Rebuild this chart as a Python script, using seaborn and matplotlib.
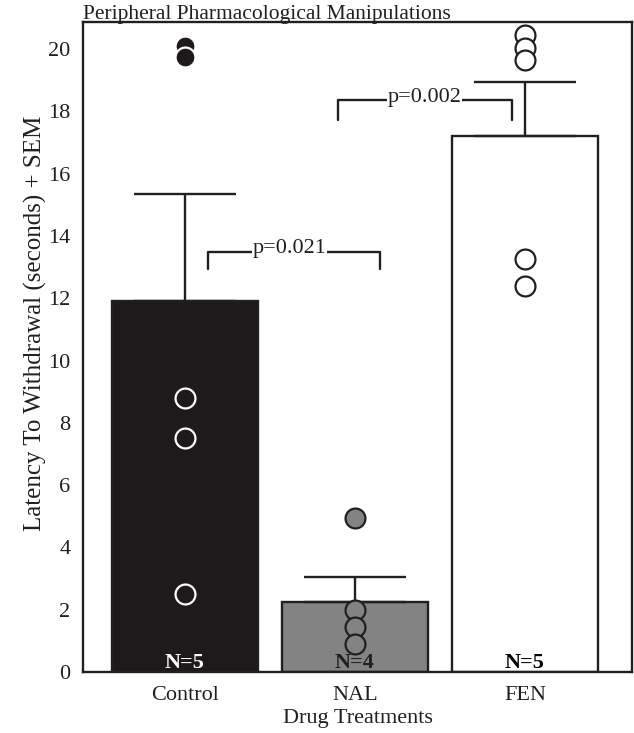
import numpy as np
import pandas as pd
import matplotlib
matplotlib.use('Agg')
import matplotlib.pyplot as plt
import seaborn as sns

# Data
groups = ['Control', 'NAL', 'FEN']
means = [11.9, 2.25, 17.2]
sems = [3.45, 0.8, 1.75]
n_labels = ['N=5', 'N=4', 'N=5']
control_pts = [20.1, 19.75, 8.8, 7.5, 2.5]
nal_pts = [4.95, 2.0, 1.45, 0.9]
fen_pts = [20.45, 20.05, 19.65, 13.25, 12.4]
yticks = list(range(0, 21, 2))

dark = '#231f20'
bar_colors = ['#1e1a1b', '#838383', '#ffffff']

sns.set_style('white')
plt.rcParams['font.family'] = ['Liberation Serif', 'DejaVu Serif']

df = pd.DataFrame({'group': groups, 'mean': means})

fig = plt.figure(figsize=(6.34, 7.33), dpi=100)
ax = fig.add_axes([83 / 634, 1 - 672 / 733, (632 - 83) / 634, (672 - 22) / 733])

sns.barplot(data=df, x='group', y='mean', hue='group', palette=bar_colors,
            legend=False, width=0.86, edgecolor=dark, linewidth=1.7, ax=ax)

# one-sided SEM bars
ax.errorbar(range(len(groups)), means, yerr=[np.zeros(len(sems)), sems],
            fmt='none', ecolor=dark, elinewidth=1.7, capsize=37, capthick=1.7, zorder=3)

# individual animals
ax.scatter(np.zeros(len(control_pts)), control_pts, s=205, facecolor='#1e1a1b',
           edgecolor='white', linewidth=1.6, zorder=4)
ax.scatter(np.ones(len(nal_pts)), nal_pts, s=205, facecolor='#838383',
           edgecolor=dark, linewidth=1.6, zorder=4)
ax.scatter(np.full(len(fen_pts), 2), fen_pts, s=205, facecolor='white',
           edgecolor=dark, linewidth=1.6, zorder=4)

# N labels
n_colors = ['white', dark, 'black']
for i, (lab, c) in enumerate(zip(n_labels, n_colors)):
    ax.text(i, 0.12, lab, ha='center', va='baseline', fontsize=16,
            fontweight='bold', color=c, zorder=5)

# significance brackets
def bracket(x0, x1, y, drop, label, xt):
    ax.plot([x0, x0, x1, x1], [y - drop, y, y, y - drop], color=dark, lw=1.7, zorder=3)
    ax.text(xt, y - 0.05, label, ha='center', va='baseline', fontsize=16, color=dark,
            zorder=4, bbox=dict(facecolor='white', edgecolor='none', pad=0.5))

bracket(0.138, 1.15, 13.5, 0.57, 'p=0.021', 0.615)
bracket(0.903, 1.926, 18.36, 0.64, 'p=0.002', 1.409)

ax.set_xlim(-0.6, 2.63)
ax.set_ylim(0, 20.87)
ax.set_yticks(yticks)
ax.tick_params(axis='both', length=0, labelsize=16, colors=dark)
ax.tick_params(axis='y', pad=9)
ax.tick_params(axis='x', pad=10)
for sp in ax.spines.values():
    sp.set_visible(True)
    sp.set_color(dark)
    sp.set_linewidth(1.7)

ax.set_xlabel('Drug Treatments', fontsize=16, color=dark, labelpad=3)
ax.set_ylabel('Latency To Withdrawal (seconds) + SEM', fontsize=18, color=dark)
ax.yaxis.set_label_coords(-0.066, 0.537)
ax.set_title('Peripheral Pharmacological Manipulations', loc='left', fontsize=15.5,
             color=dark, pad=2)

plt.savefig('out.png', dpi=100)
